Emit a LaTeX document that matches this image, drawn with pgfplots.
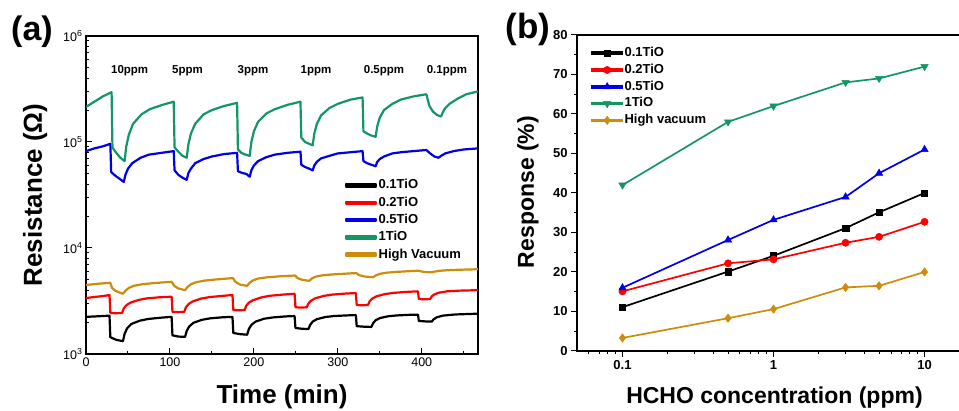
\documentclass[border=0pt]{standalone}
\usepackage{fontspec}
\setmainfont{Liberation Sans}
\usepackage{pgfplots}
\pgfplotsset{compat=1.18}
\definecolor{cBlack}{RGB}{0,0,0}
\definecolor{cRed}{RGB}{255,0,0}
\definecolor{cBlue}{RGB}{0,0,230}
\definecolor{cGreen}{RGB}{20,150,100}
\definecolor{cOrange}{RGB}{205,140,10}
\newcommand{\fs}[1]{\fontsize{#1}{1.2\dimexpr#1pt\relax}\selectfont}

\begin{document}
\begin{tikzpicture}
\useasboundingbox (0,0) rectangle (959pt,411pt);
\clip (0,0) rectangle (959pt,411pt);

% ---------- (a) resistance vs time
\begin{axis}[
  at={(86pt,57pt)}, anchor=south west,
  scale only axis, width=392pt, height=318pt,
  xmin=0, xmax=467, ymode=log, ymin=1e3, ymax=1e6,
  xtick={0,100,200,300,400}, minor xtick={50,150,250,350,450},
  ytick={1e3,1e4,1e5,1e6},
  yticklabels={10\textsuperscript{3},10\textsuperscript{4},10\textsuperscript{5},10\textsuperscript{6}},
  minor ytick={2e3,3e3,4e3,5e3,6e3,7e3,8e3,9e3,2e4,3e4,4e4,5e4,6e4,7e4,8e4,9e4,2e5,3e5,4e5,5e5,6e5,7e5,8e5,9e5},
  tick pos=left, tick align=inside,
  major tick length=6pt, minor tick length=3pt,
  axis line style={line width=1.2pt}, every tick/.style={line width=1pt, black},
  /pgf/number format/assume math mode=true,
  tick label style={font=\fs{12.5}},
  xlabel={\bfseries Time (min)},
  ylabel={\bfseries Resistance (Ω)},
  label style={font=\fs{26}},
  xlabel style={at={(axis description cs:0.5,-0.135)}, anchor=center},
  ylabel style={at={(axis description cs:-0.13,0.5)}, anchor=center},
  legend style={at={(axis description cs:0.66,0.553)}, anchor=north west, draw=none, fill=none,
    font=\bfseries\fs{13}, inner sep=0pt, row sep=2.8pt,
    nodes={inner sep=1.5pt, text height=9pt, text depth=2.5pt}},
  legend cell align=left,
  legend image code/.code={\fill[#1] (0pt,-1.2pt) rectangle (30pt,1.2pt);},
]
\addplot[cBlack, line width=2.2pt, line join=round] coordinates {
(0,2240) (15,2270) (28,2300) (29,1440) (36,1360) (44,1320)
(46,1550) (49,1750) (54,1920) (64,2060) (74,2140) (89,2200) (102,2240)
(103,1500) (110,1460) (118,1450)
(120,1650) (123,1820) (128,1970) (138,2100) (148,2170) (163,2220) (174.5,2240)
(175.5,1580) (183,1540) (192,1520)
(194,1720) (197,1880) (202,2020) (212,2150) (222,2210) (237,2260) (248.5,2280)
(249.5,1760) (257,1730) (265,1720)
(267,1880) (270,2020) (275,2130) (285,2230) (295,2280) (310,2310) (321.5,2330)
(322.5,1830) (331,1810) (340,1800)
(342,1950) (345,2080) (350,2180) (360,2270) (370,2310) (385,2340) (395.5,2350)
(396.5,2050) (404,2030) (412,2020)
(414,2120) (418,2220) (425,2300) (440,2360) (467,2400)};
\addlegendentry{0.1TiO}
\addplot[cRed, line width=2.2pt, line join=round] coordinates {
(0,3370) (10,3450) (20,3520) (28,3600) (29,2440) (36,2420) (43,2440)
(45,2690) (48,2880) (53,3050) (63,3240) (73,3350) (88,3430) (102,3470)
(103,2500) (110,2480) (117,2500)
(119,2750) (122,2950) (127,3130) (137,3330) (147,3440) (162,3530) (174.5,3600)
(175.5,2600) (182,2580) (189,2600)
(191,2860) (194,3050) (199,3220) (209,3420) (219,3540) (234,3630) (248.5,3700)
(249.5,2760) (256,2740) (263,2760)
(265,3000) (268,3180) (273,3350) (283,3530) (293,3630) (308,3710) (321.5,3760)
(322.5,2900) (329,2880) (336,2900)
(338,3150) (341,3330) (346,3500) (356,3670) (366,3770) (381,3850) (395.5,3900)
(396.5,3300) (403,3280) (410,3300)
(412,3500) (415,3650) (420,3780) (430,3900) (445,3960) (467,4000)};
\addlegendentry{0.2TiO}
\addplot[cBlue, line width=2.2pt, line join=round] coordinates {
(0,82000) (10,87000) (20,91000) (29,96000) (30,52000) (35,48000) (40,45000) (45,42000)
(47,49000) (50,56000) (55,63000) (65,71000) (75,76000) (90,79000) (104.5,82000)
(105.5,54000) (110,49000) (115,46000) (120,44000)
(122,51000) (125,56000) (130,63000) (140,69000) (150,73000) (165,77000) (180,79000)
(181,53000) (186,51000) (191,50000) (195,47000)
(197,54000) (200,60000) (205,66000) (215,72000) (225,76000) (240,79000) (255.5,81000)
(256.5,61000) (261,58000) (266,56000) (270,54000)
(272,60000) (275,65000) (280,70000) (290,74000) (300,78000) (315,80000) (329.5,82000)
(330.5,66000) (335,63000) (340,61000) (345,59000)
(347,65000) (350,69000) (355,73000) (365,78000) (375,80000) (390,82000) (405.5,84000)
(410,78000) (415,73000) (420,71000)
(423,74000) (428,78000) (438,82000) (450,85000) (467,87000)};
\addlegendentry{0.5TiO}
\addplot[cGreen, line width=2.2pt, line join=round] coordinates {
(0,214000) (10,240000) (20,269000) (30.5,295000) (31.5,89000) (36,79000) (41,71000) (46,66000)
(48,91000) (51,117000) (56,148000) (66,182000) (76,204000) (91,224000) (104.5,240000)
(105.5,89000) (110,81000) (115,74000) (120,71000)
(122,95000) (125,120000) (130,148000) (140,182000) (150,200000) (165,219000) (180,234000)
(181,85000) (185,79000) (190,76000) (195,74000)
(197,100000) (200,126000) (205,155000) (215,186000) (225,204000) (240,224000) (255.5,240000)
(256.5,110000) (261,100000) (266,96000) (270,93000)
(272,120000) (275,148000) (280,178000) (290,209000) (300,229000) (315,251000) (329.5,263000)
(330.5,126000) (335,120000) (340,115000) (345,112000)
(347,141000) (350,170000) (355,200000) (365,229000) (375,251000) (390,269000) (405.5,282000)
(409,220000) (413,195000) (418,180000) (423,174000)
(425,190000) (428,209000) (433,229000) (443,257000) (453,282000) (467,300000)};
\addlegendentry{1TiO}
\addplot[cOrange, line width=2.2pt, line join=round] coordinates {
(0,4480) (15,4600) (29,4700) (31,4200) (35,3950) (40,3800) (44,3700)
(47,3950) (51,4200) (57,4400) (67,4550) (80,4660) (102,4800)
(105,4400) (110,4150) (118,4000)
(121,4300) (125,4550) (131,4750) (141,4920) (155,5050) (175,5200)
(178,4800) (184,4500) (192,4400)
(195,4700) (199,4950) (205,5150) (215,5280) (230,5400) (249,5500)
(252,5200) (258,5000) (266,4900)
(269,5150) (273,5350) (280,5500) (292,5620) (305,5700) (322,5800)
(325,5550) (332,5380) (342,5300)
(345,5500) (350,5700) (358,5850) (370,5950) (383,6030) (396,6100)
(400,6000) (405,5920) (412,5900)
(416,6000) (422,6100) (435,6200) (450,6250) (467,6300)};
\addlegendentry{High Vacuum}
\begin{scope}[every node/.style={font=\bfseries\fs{11.5}}]
\node at (axis cs:52,4.7e5) {10ppm};
\node at (axis cs:121,4.7e5) {5ppm};
\node at (axis cs:199,4.7e5) {3ppm};
\node at (axis cs:274,4.7e5) {1ppm};
\node at (axis cs:355,4.7e5) {0.5ppm};
\node at (axis cs:430,4.7e5) {0.1ppm};
\end{scope}
\end{axis}

% ---------- (b) response vs concentration
\begin{axis}[
  at={(577pt,60pt)}, anchor=south west,
  scale only axis, width=393pt, height=316pt,
  xmode=log, xmin=0.05, xmax=20, ymin=0, ymax=80,
  xtick={0.1,1,10}, xticklabels={0.1,1,10},
  minor xtick={0.06,0.07,0.08,0.09,0.2,0.3,0.4,0.5,0.6,0.7,0.8,0.9,2,3,4,5,6,7,8,9},
  ytick={0,10,...,80}, minor ytick={5,15,...,75},
  tick pos=left, tick align=outside,
  major tick length=6pt, minor tick length=3pt,
  axis line style={line width=1.2pt}, every tick/.style={line width=1pt, black},
  /pgf/number format/assume math mode=true,
  tick label style={font=\bfseries\fs{13}},
  xlabel={\bfseries HCHO concentration (ppm)},
  ylabel={\bfseries Response (\%)},
  label style={font=\fs{23}},
  xlabel style={at={(axis description cs:0.5025,-0.146)}, anchor=center},
  ylabel style={at={(axis description cs:-0.125,0.503)}, anchor=center},
  legend style={at={(axis description cs:0.036,0.966)}, anchor=north west, draw=none, fill=none,
    font=\bfseries\fs{13}, inner sep=0pt, row sep=2.3pt,
    nodes={inner sep=1.5pt, text height=9pt, text depth=2.5pt}},
  legend cell align=left,
  legend image code/.code={
    \fill[#1] (0pt,-0.9pt) rectangle (30pt,0.9pt);
    \draw[mark repeat=2, mark phase=2, #1, line width=1.7pt] plot coordinates {(0pt,0pt) (15pt,0pt) (30pt,0pt)};},
]
\addplot[cBlack, line width=1.7pt, mark=square*, mark size=3.2pt, mark options={solid, line width=0.5pt}] coordinates {
(0.1,11.1) (0.5,20.1) (1,24.1) (3,31.1) (5,35.1) (10,40)};
\addlegendentry{0.1TiO}
\addplot[cRed, line width=1.7pt, mark=*, mark size=3.6pt, mark options={solid, line width=0.5pt}] coordinates {
(0.1,15.1) (0.5,22.2) (1,23.2) (3,27.4) (5,28.9) (10,32.7)};
\addlegendentry{0.2TiO}
\addplot[cBlue, line width=1.7pt, mark=triangle*, mark size=4.2pt, mark options={solid, line width=0.5pt}] coordinates {
(0.1,16) (0.5,28.1) (1,33.2) (3,39) (5,45) (10,51)};
\addlegendentry{0.5TiO}
\addplot[cGreen, line width=1.7pt, mark=triangle*, mark size=4.2pt, mark options={solid, line width=0.5pt, rotate=180}] coordinates {
(0.1,42) (0.5,58) (1,62) (3,68) (5,69) (10,72)};
\addlegendentry{1TiO}
\addplot[cOrange, line width=1.7pt, mark=diamond*, mark size=4.2pt, mark options={solid, line width=0.5pt}] coordinates {
(0.1,3.3) (0.5,8.3) (1,10.6) (3,16.1) (5,16.5) (10,20)};
\addlegendentry{High vacuum}
\end{axis}

\node[font=\bfseries\fs{34}] at (32pt,379pt) {(a)};
\node[font=\bfseries\fs{35}] at (528pt,382pt) {(b)};
\end{tikzpicture}
\end{document}
